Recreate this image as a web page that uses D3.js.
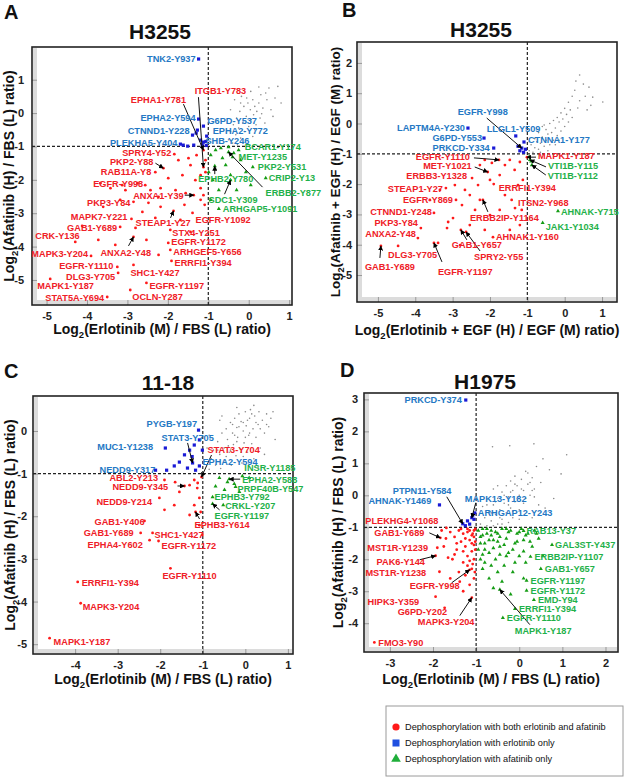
<!DOCTYPE html>
<html>
<head>
<meta charset="utf-8">
<script src="https://cdn.jsdelivr.net/npm/d3@7"></script>
<style>
  body { margin: 0; background: #fff; }
  text { font-family: 'Liberation Sans', Arial, sans-serif; }
</style>
</head>
<body>
<script>
// ---- data: panel A (H3255, erlotinib vs afatinib) ----
const grayA = [[-0.5,-0.8],[-0.45,-0.55],[-0.4,-0.9],[-0.38,-0.35],[-0.32,-0.65],[-0.3,-0.15],[-0.25,-0.45],[-0.22,0.05],[-0.2,-0.75],[-0.15,-0.3],[-0.12,0.2],[-0.1,-0.55],[-0.06,-0.1],[-0.02,0.3],[0.0,-0.4],[0.04,0.1],[0.06,-0.2],[0.1,0.4],[0.12,-0.05],[0.15,0.2],[0.18,-0.35],[0.2,0.05],[0.25,0.3],[0.28,-0.15],[0.3,0.55],[0.35,0.15],[0.4,-0.3],[0.45,0.4],[0.5,0.75],[0.55,0.1],[0.65,0.45],[0.72,0.8],[-0.35,0.4],[-0.18,0.5],[0.05,0.65],[0.25,0.78],[-0.45,0.1],[0.38,-0.6],[0.6,-0.1],[-0.28,-0.95],[0.1,-0.7],[0.8,0.3],[-0.05,0.45],[0.15,-0.5],[0.32,-0.02],[-0.2,0.3],[0.42,0.6]];
const redA = [[-3.67,-2.10],[-3.42,-2.25],[-3.13,-2.16],[-2.75,-2.10],[-2.43,-2.31],[-2.18,-2.25],[-1.81,-2.31],[-1.56,-2.40],[-1.32,-2.01],[-1.19,-1.86],[-1.19,-2.25],[-1.07,-1.41],[-1.07,-1.77],[-1.44,-1.56],[-1.64,-1.86],[-1.99,-1.95],[-2.23,-2.51],[-2.48,-2.69],[-2.63,-2.96],[-2.18,-2.81],[-1.59,-2.75],[-1.19,-2.60],[-3.18,-2.60],[-3.60,-2.81],[-2.31,-3.14],[-1.44,-3.56],[-4.12,-3.38],[-3.72,-3.80],[-2.53,-3.80],[-2.23,-4.25],[-3.30,-3.95],[-1.29,-1.26],[-1.49,-1.35],[-1.74,-1.41],[-3.05,-2.31],[-2.80,-3.44],[-1.12,-2.46],[-1.09,-2.75],[-1.69,-3.20]];
const blueA = [[-1.51,-0.99],[-1.36,-0.96],[-1.19,-0.81],[-1.27,-0.51],[-1.30,-0.60],[-1.06,-0.85],[-1.15,-0.95],[-1.05,-0.97],[-1.62,-0.96]];
const greenA = [[-0.82,-1.11],[-0.69,-1.05],[-0.65,-1.35],[-0.94,-1.26],[-0.57,-1.56],[-0.20,-1.41],[-0.07,-1.77],[-0.45,-1.86],[-0.89,-2.01],[-0.99,-1.77],[-0.30,-2.31],[0.05,-2.16],[-0.74,-2.31],[-0.94,-2.60],[-0.50,-1.02],[-0.37,-1.20]];
const labelsA = [
  ["TNK2-Y937",-1.24,1.62,"blue"],["ITGB1-Y783",-1.12,-1.62,"red"],["EPHA1-Y781",-1.12,-1.11,"red"],
  ["EPHA2-Y594",-1.24,-0.18,"blue"],["G6PD-Y537",-1.12,-0.39,"blue"],["CTNND1-Y228",-1.39,-0.66,"blue"],
  ["EPHA2-Y772",-1.04,-0.69,"blue"],["PLEKHA5-Y404",-1.69,-0.93,"blue"],["SHB-Y246",-1.12,-0.87,"blue"],
  ["BCAR1-Y174",-0.25,-1.11,"green"],["MET-Y1235",-0.40,-1.32,"green"],["PKP2-Y531",0.10,-1.62,"green"],
  ["CRIP2-Y13",0.42,-1.95,"green"],["EPHB2-Y780",-0.84,-1.59,"green"],["ERBB2-Y877",-0.50,-1.17,"green"],
  ["SDC1-Y309",-0.45,-2.01,"green"],["ARHGAP5-Y1091",-0.74,-2.87,"green"],
  ["SPRY4-Y52",-1.84,-1.23,"red"],["PKP2-Y88",-2.11,-1.65,"red"],["RAB11A-Y8",-2.31,-1.77,"red"],
  ["EGFR-Y998",-2.56,-2.16,"red"],["ANXA1-Y39",-1.36,-2.46,"red"],["PKP3-Y84",-2.85,-2.66,"red"],
  ["MAPK7-Y221",-2.90,-3.17,"red"],["GAB1-Y689",-3.18,-3.41,"red"],["STEAP1-Y27",-1.86,-2.93,"red"],
  ["CRK-Y136",-4.29,-3.86,"red"],["ANXA2-Y48",-2.85,-3.71,"red"],["MAPK3-Y204",-3.90,-4.28,"red"],
  ["EGFR-Y1110",-3.25,-4.61,"red"],["DLG3-Y705",-3.23,-4.79,"red"],["MAPK1-Y187",-4.91,-4.97,"red"],
  ["STAT5A-Y694",-3.50,-5.51,"red"],["SHC1-Y427",-2.85,-4.55,"red"],["EGFR-Y1197",-2.53,-5.09,"red"],
  ["OCLN-Y287",-2.93,-5.30,"red"],["EGFR-Y1092",-1.39,-2.99,"red"],["STX4-Y251",-1.94,-3.50,"red"],
  ["EGFR-Y1172",-1.99,-3.89,"red"],["ARHGEF5-Y656",-1.94,-4.10,"red"],["ERRFI1-Y394",-1.91,-4.43,"red"]
];

// ---- data: panel B (H3255 + EGF) ----
const grayB = [[-0.95,-0.9],[-0.9,-0.7],[-0.85,-0.95],[-0.8,-0.5],[-0.8,-0.8],[-0.75,-0.6],[-0.7,-0.85],[-0.7,-0.3],[-0.65,-0.65],[-0.6,-0.45],[-0.55,-0.75],[-0.5,-0.2],[-0.5,-0.55],[-0.45,-0.35],[-0.4,-0.7],[-0.4,0.0],[-0.35,-0.3],[-0.3,0.1],[-0.3,-0.55],[-0.25,-0.15],[-0.2,0.2],[-0.2,-0.4],[-0.15,0.05],[-0.1,0.35],[-0.1,-0.25],[-0.05,0.15],[0.0,0.5],[0.0,-0.1],[0.05,0.3],[0.1,0.7],[0.1,0.05],[0.15,0.45],[0.2,0.2],[0.2,0.9],[0.27,1.1],[0.35,0.51],[0.4,1.6],[0.4,0.75],[0.5,1.3],[0.55,0.9],[0.6,0.45],[0.65,1.2],[0.75,0.87],[1.02,0.71],[0.3,1.4],[0.7,0.6],[-0.6,-0.1],[-0.95,-0.6],[-0.65,-0.95],[-0.45,-0.9],[-0.25,-0.7],[-0.55,-0.05],[-0.15,-0.55]];
const redB = [[-2.27,-1.37],[-2.14,-1.20],[-1.95,-1.30],[-1.60,-1.37],[-1.47,-1.20],[-1.34,-1.53],[-1.20,-1.27],[-1.74,-1.70],[-2.00,-1.86],[-2.32,-2.03],[-2.67,-2.19],[-2.54,-2.36],[-2.27,-2.52],[-1.60,-2.36],[-1.25,-2.03],[-1.42,-2.52],[-1.74,-2.85],[-2.00,-3.02],[-2.40,-2.85],[-2.75,-2.69],[-2.99,-3.12],[-2.54,-3.35],[-2.14,-3.51],[-3.12,-3.25],[-3.15,-3.45],[-1.20,-3.35],[-2.80,-4.01],[-2.94,-2.03],[-3.34,-2.19],[-3.61,-2.52],[-1.47,-3.51],[-1.15,-2.85],[-1.12,-1.86],[-3.39,-3.94]];
const blueB = [[-1.2,-0.9],[-1.1,-0.95],[-1.25,-0.75],[-1.05,-0.85]];
const greenB = [[-0.95,-1.1],[-0.9,-1.25]];
const labelsB = [
  ["EGFR-Y998",-1.15,-0.81,"blue"],["LAPTM4A-Y230",-2.59,-0.15,"blue"],["G6PD-Y553",-2.16,-0.48,"blue"],
  ["LLGL1-Y509",-1.31,-0.41,"blue"],["PRKCD-Y334",-1.90,-0.81,"blue"],["CTNNA1-Y177",-1.09,-0.61,"blue"],
  ["MAPK1-Y187",-1.01,-1.11,"red"],["VTI1B-Y115",-0.93,-1.20,"green"],["VTI1B-Y112",-0.88,-1.37,"green"],
  ["EGFR-Y1110",-1.76,-1.20,"red"],["MET-Y1021",-2.06,-1.60,"red"],["ERBB3-Y1328",-2.48,-1.80,"red"],
  ["STEAP1-Y27",-3.18,-2.13,"red"],["EGFR-Y869",-2.91,-2.52,"red"],["CTNND1-Y248",-3.50,-2.95,"red"],
  ["PKP3-Y84",-3.85,-3.45,"red"],["ANXA2-Y48",-3.93,-3.78,"red"],["DLG3-Y705",-4.46,-4.04,"red"],
  ["GAB1-Y689",-4.92,-4.04,"red"],["EGFR-Y1197",-3.50,-3.94,"red"],["GAB1-Y657",-2.78,-3.51,"red"],
  ["ERRFI1-Y394",-1.90,-2.00,"red"],["ITSN2-Y968",-1.33,-2.79,"red"],["ERBB2IP-Y1164",-2.19,-2.52,"red"],
  ["AHNAK1-Y160",-1.92,-3.75,"red"],["SPRY2-Y55",-2.64,-3.58,"red"],
  ["AHNAK-Y715",-0.18,-2.89,"green"],["JAK1-Y1034",-0.59,-3.28,"green"]
];

// ---- data: panel C (11-18) ----
const grayC = [[-0.85,-0.9],[-0.8,-0.65],[-0.75,-0.45],[-0.7,-0.8],[-0.65,-0.25],[-0.6,-0.55],[-0.58,-0.88],[-0.55,-0.05],[-0.5,-0.4],[-0.48,-0.7],[-0.45,0.05],[-0.42,-0.2],[-0.38,-0.5],[-0.35,0.2],[-0.33,-0.8],[-0.3,-0.05],[-0.28,-0.32],[-0.25,0.3],[-0.22,-0.58],[-0.2,0.08],[-0.18,-0.15],[-0.15,0.4],[-0.12,-0.42],[-0.1,0.22],[-0.08,-0.75],[-0.05,0.0],[-0.03,-0.28],[0.0,0.45],[0.02,0.12],[0.05,-0.5],[0.08,-0.1],[0.1,0.3],[0.12,0.5],[0.15,-0.3],[0.18,0.05],[0.2,-0.65],[0.22,0.35],[0.25,-0.15],[0.3,0.15],[0.32,0.45],[0.35,-0.4],[0.4,0.25],[0.45,-0.05],[0.5,0.4],[0.55,0.1],[0.6,0.3],[0.65,0.45],[0.7,-0.2],[-0.85,-0.1],[-0.6,0.25],[-0.9,-0.4],[0.3,-0.85],[-0.2,0.55],[0.45,-0.55],[-0.55,0.35],[-0.45,-0.6],[-0.35,-0.45],[-0.25,-0.1],[-0.15,0.1],[-0.05,0.2],[0.05,0.25],[0.15,0.4],[0.25,0.2],[-0.1,-0.5],[-0.3,0.15],[0.0,-0.15],[0.35,0.05],[-0.4,-0.35],[0.1,-0.05],[-0.2,-0.25],[0.2,0.6],[-0.65,-0.45],[0.5,0.15],[-0.05,-0.6]];
const redC = [[-1.31,-1.27],[-1.20,-1.15],[-1.13,-1.34],[-1.55,-1.43],[-1.08,-1.57],[-1.20,-1.74],[-1.31,-1.97],[-1.08,-2.21],[-1.67,-1.74],[-1.90,-1.85],[-1.01,-2.44],[-1.12,-1.22],[-1.65,-1.2],[-1.05,-1.9]];
const blueC = [[-1.43,-0.56],[-1.31,-0.45],[-1.55,-0.73],[-1.20,-0.33],[-1.08,-0.21],[-1.01,-0.45],[-1.36,-0.87],[-1.17,-0.92],[-1.67,-0.82],[-2.11,-0.92],[-1.25,-0.6]];
const greenC = [[-0.26,-1.24],[-0.42,-1.20],[-0.61,-1.10],[-0.49,-1.38],[0.09,-1.10],[-0.14,-1.43],[-0.7,-1.3]];
const labelsC = [
  ["PYGB-Y197",-1.10,0.02,"blue"],["MUC1-Y1238",-1.88,-0.40,"blue"],["STAT3-Y705",-1.24,-0.75,"blue"],
  ["NEDD9-Y317",-1.85,-0.92,"blue"],["STAT3-Y704",-1.03,-1.08,"red"],["EPHA2-Y594",-1.08,-0.82,"blue"],
  ["ABL2-Y213",-1.90,-1.15,"red"],["NEDD9-Y345",-1.43,-1.29,"red"],["NEDD9-Y214",-2.02,-1.57,"red"],
  ["GAB1-Y406",-2.37,-2.11,"red"],["GAB1-Y689",-2.46,-2.39,"red"],["SHC1-Y427",-2.18,-2.39,"red"],
  ["EPHA4-Y602",-2.25,-2.56,"red"],["EGFR-Y1172",-2.04,-2.58,"red"],["EGFR-Y1110",-1.76,-3.22,"red"],
  ["ERRFI1-Y394",-3.94,-3.54,"red"],["MAPK3-Y204",-3.87,-4.04,"red"],["MAPK1-Y187",-4.60,-4.86,"red"],
  ["EPHB3-Y614",-1.17,-1.90,"red"],["INSR-Y1185",-0.07,-1.06,"green"],["EPHA2-Y588",-0.38,-1.13,"green"],
  ["PRPF40B-Y547",-0.23,-1.31,"green"],["EPHB3-Y792",-0.77,-1.55,"green"],["CRKL-Y207",-0.52,-1.74,"green"],
  ["EGFR-Y1197",-0.77,-1.71,"green"]
];

// ---- data: panel D (H1975) ----
const grayD = [[-0.9,-0.9],[-0.8,-0.7],[-0.75,-0.95],[-0.7,-0.5],[-0.65,-0.8],[-0.6,-0.3],[-0.55,-0.6],[-0.5,-0.9],[-0.5,-0.1],[-0.45,-0.45],[-0.4,-0.75],[-0.4,0.1],[-0.35,-0.25],[-0.3,-0.55],[-0.3,0.3],[-0.25,-0.05],[-0.2,-0.4],[-0.2,0.45],[-0.15,-0.7],[-0.15,0.15],[-0.1,-0.2],[-0.1,0.6],[-0.05,0.3],[0.0,-0.45],[0.0,0.0],[0.05,0.5],[0.1,0.15],[0.1,-0.25],[0.15,0.75],[0.2,0.35],[0.25,0.0],[0.3,0.55],[0.35,0.2],[0.4,0.9],[0.45,-0.3],[0.5,0.4],[-0.6,0.2],[-0.85,-0.35],[-0.25,-0.85],[0.3,-0.7],[-0.62,1.52],[-0.22,1.55],[0.34,1.61],[0.55,1.14],[1.1,1.27],[0.97,0.67],[0.7,0.8],[0.6,-0.4],[0.8,-0.1],[-0.55,-0.2],[-0.45,-0.7],[-0.35,0.0],[-0.25,-0.3],[-0.15,-0.5],[-0.05,-0.1],[0.05,0.2],[0.15,-0.1],[0.25,0.4],[-0.65,-0.55],[-0.75,-0.3],[-0.5,0.3],[0.2,0.7],[0.35,-0.05],[-0.2,0.1],[-0.4,-0.9],[0.0,-0.75],[-0.6,-0.95],[0.3,0.15],[-0.1,0.35]];
const redD = [[-1.05,-1.1],[-1.1,-1.25],[-1.2,-1.05],[-1.3,-1.2],[-1.15,-1.4],[-1.05,-1.55],[-1.4,-1.1],[-1.5,-1.3],[-1.25,-1.6],[-1.1,-1.75],[-1.6,-1.15],[-1.35,-1.45],[-1.2,-1.9],[-1.05,-2.0],[-1.45,-1.7],[-1.7,-1.35],[-1.3,-2.1],[-1.1,-2.3],[-1.55,-2.0],[-1.25,-2.5],[-1.05,-2.6],[-1.4,-2.4],[-1.15,-2.8],[-1.6,-2.6],[-1.3,-3.0],[-1.05,-1.3],[-1.02,-1.7],[-1.08,-2.15],[-1.75,-1.6],[-1.2,-1.15],[-1.02,-1.05],[-1.1,-1.5],[-1.35,-1.05],[-1.15,-1.1],[-1.25,-1.35],[-1.45,-1.5],[-1.03,-2.4],[-1.2,-2.2],[-1.5,-1.85],[-1.65,-1.95],[-1.08,-1.2],[-1.3,-1.75],[-1.15,-2.05],[-1.02,-1.45],[-1.38,-2.7],[-1.8,-1.1]];
const blueD = [[-1.2,-0.8],[-1.15,-0.9],[-1.05,-0.75],[-1.25,-0.95],[-1.08,-0.62]];
const greenD = [[-0.95,-1.1],[-0.9,-1.3],[-0.85,-1.05],[-0.8,-1.5],[-0.75,-1.2],[-0.7,-1.8],[-0.65,-1.1],[-0.6,-1.4],[-0.55,-2.0],[-0.5,-1.2],[-0.45,-1.6],[-0.4,-1.05],[-0.35,-2.2],[-0.3,-1.35],[-0.25,-1.8],[-0.2,-1.1],[-0.15,-2.4],[-0.1,-1.5],[-0.05,-1.2],[0.0,-1.9],[0.05,-1.05],[0.1,-1.4],[0.15,-2.1],[0.2,-1.2],[0.3,-1.6],[0.35,-1.1],[0.45,-1.35],[0.55,-1.9],[-0.85,-2.3],[-0.7,-2.6],[-0.6,-2.9],[-0.9,-2.0],[-0.4,-2.7],[-0.8,-1.7],[-0.5,-1.45],[-0.65,-1.25],[-0.3,-1.05],[0.1,-2.6],[-0.2,-3.1],[-0.9,-1.5],[-0.85,-1.25],[-0.75,-1.05],[-0.7,-1.4],[-0.55,-1.15],[-0.45,-1.3],[-0.35,-1.55],[-0.25,-1.15],[-0.15,-1.7],[-0.05,-1.45],[0.0,-1.15],[0.1,-1.75],[0.25,-1.45],[-0.6,-1.65],[-0.8,-2.1],[-0.5,-2.4],[-0.95,-1.7],[-0.3,-1.9],[0.15,-1.25],[-0.65,-2.2],[-0.85,-1.85],[0.4,-1.2],[-0.1,-2.1],[-0.45,-1.85]];
const labelsD = [
  ["PRKCD-Y374",-1.24,2.98,"blue"],["PTPN11-Y584",-1.31,-0.89,"blue"],["AHNAK-Y1469",-1.85,-0.30,"blue"],
  ["MAPK13-Y182",-1.10,-0.70,"blue"],["ARHGAP12-Y243",-1.03,-0.55,"blue"],
  ["PLEKHG4-Y1068",-1.69,-1.02,"red"],["GAB1-Y689",-1.83,-1.33,"red"],["MST1R-Y1239",-1.90,-1.64,"red"],
  ["PAK6-Y144",-1.94,-1.89,"red"],["MST1R-Y1238",-1.85,-2.39,"red"],["EGFR-Y998",-1.15,-2.33,"red"],
  ["HIPK3-Y359",-1.94,-3.17,"red"],["G6PD-Y202",-1.73,-3.52,"red"],["MAPK3-Y204",-1.10,-3.20,"red"],
  ["FMO3-Y90",-3.36,-4.60,"red"],
  ["RAB13-Y37",0.10,-1.11,"green"],["GAL3ST-Y437",0.76,-1.55,"green"],["ERBB2IP-Y1107",0.26,-1.92,"green"],
  ["GAB1-Y657",0.50,-2.30,"green"],["EGFR-Y1197",0.17,-2.67,"green"],["EGFR-Y1172",0.17,-2.98,"green"],
  ["EMD-Y94",0.34,-3.27,"green"],["ERRFI1-Y394",-0.10,-3.55,"green"],["EGFR-Y1110",-0.38,-3.83,"green"],
  ["MAPK1-Y187",-0.45,-2.95,"green"]
];

const legendItems = [
  ["red", "Dephosphorylation with both erlotinib and afatinib"],
  ["blue", "Dephosphorylation with erlotinib only"],
  ["green", "Dephosphorylation with afatinib only"]
];

// ---- label placement (pixel offsets from the point: dx, dy, anchor, arrow start dx, dy) ----
const layoutA = {
  "TNK2-Y937":[-3,0,"end"], "ITGB1-Y783":[17,-76,"middle",-5,-70], "EPHA1-Y781":[-45,-50,"middle",-20,-46],
  "EPHA2-Y594":[-3,-1,"end"], "G6PD-Y537":[4,-5,"start"], "CTNND1-Y228":[-3,-4,"end"],
  "EPHA2-Y772":[6,-5,"start"], "PLEKHA5-Y404":[-3,-1,"end"], "SHB-Y246":[2,-1,"start"],
  "BCAR1-Y174":[6,-3,"start"], "MET-Y1235":[6,0,"start"], "PKP2-Y531":[5,0,"start"], "CRIP2-Y13":[3,0,"start"],
  "EPHB2-Y780":[11,13,"middle",0,8], "ERBB2-Y877":[37,41,"start",34,35], "SDC1-Y309":[-22,20,"start",-6,14],
  "ARHGAP5-Y1091":[4,0,"start"], "SPRY4-Y52":[-3,-1,"end"], "PKP2-Y88":[-10,-6,"end",-8,-5],
  "RAB11A-Y8":[-4,0,"end"], "EGFR-Y998":[-2,-1,"end"], "ANXA1-Y39":[-10,0,"end",-9,0],
  "PKP3-Y84":[-3,1,"end"], "MAPK7-Y221":[-4,-2,"end"], "GAB1-Y689":[-3,1,"end"],
  "STEAP1-Y27":[-38,12,"start",-3,7], "CRK-Y136":[-40,-6,"start"], "ANXA2-Y48":[-33,16,"start",-5,9],
  "MAPK3-Y204":[-3,-2,"end"], "EGFR-Y1110":[-4,-1,"end"], "DLG3-Y705":[-3,4,"end"],
  "MAPK1-Y187":[-13,7,"start"], "STAT5A-Y694":[-3,1,"end"], "SHC1-Y427":[-3,8,"start"],
  "EGFR-Y1197":[3,3,"start"], "OCLN-Y287":[2,7,"start"], "EGFR-Y1092":[3,7,"start"],
  "STX4-Y251":[2,3,"start"], "EGFR-Y1172":[3,-1,"start"], "ARHGEF5-Y656":[3,2,"start"], "ERRFI1-Y394":[3,2,"start"]
};
const layoutB = {
  "EGFR-Y998":[-64,-36,"start",-35,-30], "LAPTM4A-Y230":[-3,0,"end"], "G6PD-Y553":[-2,0,"end"],
  "LLGL1-Y509":[-29,-7,"start"], "PRKCD-Y334":[-4,0,"end"], "CTNNA1-Y177":[4,-2,"start"],
  "MAPK1-Y187":[11,-1,"start",9,0], "VTI1B-Y115":[18,6,"start",16,7], "VTI1B-Y112":[16,11,"start",14,10],
  "EGFR-Y1110":[-29,-3,"end",-25,-2], "MET-Y1021":[-16,-6,"end",-13,-5], "ERBB3-Y1328":[-5,-2,"end"],
  "STEAP1-Y27":[-3,1,"end"], "EGFR-Y869":[-3,0,"end"], "CTNND1-Y248":[-2,-1,"end"],
  "PKP3-Y84":[-3,-5,"end"], "ANXA2-Y48":[-2,-4,"end"], "DLG3-Y705":[-10,9,"start"],
  "GAB1-Y689":[-16,21,"start",-1,12], "EGFR-Y1197":[4,29,"start",8,19], "GAB1-Y657":[-9,15,"start",6,10],
  "ERRFI1-Y394":[5,4,"start"], "ITSN2-Y968":[3,-5,"start"], "ERBB2IP-Y1164":[-13,18,"start",5,12],
  "AHNAK1-Y160":[3,0,"start"], "SPRY2-Y55":[8,25,"start",14,19],
  "AHNAK-Y715":[3,1,"start"], "JAK1-Y1034":[3,4,"start"]
};
const layoutC = {
  "PYGB-Y197":[-52,-6,"start"], "MUC1-Y1238":[-68,-1,"start"], "STAT3-Y705":[-31,-25,"start",-5,-20],
  "NEDD9-Y317":[-67,-1,"start"], "STAT3-Y704":[6,-27,"start",10,-22], "EPHA2-Y594":[3,-4,"start"],
  "ABL2-Y213":[-55,-2,"start"], "NEDD9-Y345":[-72,1,"start",-7,0], "NEDD9-Y214":[-63,4,"start"],
  "GAB1-Y406":[-50,1,"start"], "GAB1-Y689":[-57,0,"start"], "SHC1-Y427":[2,2,"start"],
  "EPHA4-Y602":[-62,5,"start"], "EGFR-Y1172":[3,5,"start"], "EGFR-Y1110":[-8,7,"start"],
  "ERRFI1-Y394":[4,1,"start"], "MAPK3-Y204":[2,3,"start"], "MAPK1-Y187":[4,3,"start"],
  "EPHB3-Y614":[-1,13,"start",4,7], "INSR-Y1185":[2,-8,"start"], "EPHA2-Y588":[13,1,"start",11,0],
  "PRPF40B-Y547":[2,2,"start"], "EPHB3-Y792":[2,0,"start"], "CRKL-Y207":[2,1,"start"],
  "EGFR-Y1197":[2,12,"start",7,6]
};
const layoutD = {
  "PRKCD-Y374":[-4,0,"end"], "PTPN11-Y584":[-70,-33,"start",-16,-27], "AHNAK-Y1469":[-71,-4,"start"],
  "MAPK13-Y182":[-7,-19,"start",4,-15], "ARHGAP12-Y243":[3,0,"start"],
  "PLEKHG4-Y1068":[-81,-7,"start"], "GAB1-Y689":[-66,-5,"start",-11,-5], "MST1R-Y1239":[-70,0,"start"],
  "PAK6-Y144":[-59,6,"start",-16,4], "MST1R-Y1238":[-74,1,"start"], "EGFR-Y998":[-60,16,"start",-18,13],
  "HIPK3-Y359":[-68,5,"start"], "G6PD-Y202":[-47,4,"start"], "MAPK3-Y204":[-54,24,"start",-12,18],
  "FMO3-Y90":[4,0,"start"],
  "RAB13-Y37":[3,0,"start"], "GAL3ST-Y437":[3,0,"start"], "ERBB2IP-Y1107":[4,0,"start"],
  "GAB1-Y657":[4,0,"start"], "EGFR-Y1197":[4,0,"start"], "EGFR-Y1172":[4,0,"start"],
  "EMD-Y94":[4,0,"start"], "ERRFI1-Y394":[4,0,"start"], "EGFR-Y1110":[4,0,"start"], "MAPK1-Y187":[15,41,"start",30,35]
};

const pointColor = {red: "#ff1a1a", blue: "#1a1ad6", green: "#149c14", gray: "#8a8a8a"};
const textColor = {red: "#ef2027", blue: "#2478c4", green: "#1fb14a"};

const svg = d3.select("body").append("svg").attr("width", 625).attr("height", 781);

svg.append("defs").append("marker")
  .attr("id", "arr").attr("viewBox", "0 0 10 10").attr("refX", 9).attr("refY", 5)
  .attr("markerWidth", 5).attr("markerHeight", 5).attr("orient", "auto")
  .append("path").attr("d", "M0,0L10,5L0,10z").attr("fill", "#000");

function logTitle(g, rest, tx, ty, rotate, size) {
  const t = g.append("text")
    .attr("transform", `translate(${tx},${ty})` + (rotate ? " rotate(-90)" : ""))
    .attr("text-anchor", "middle").attr("font-weight", "bold").attr("font-size", size).attr("fill", "#111");
  t.append("tspan").text("Log");
  t.append("tspan").attr("font-size", size * 0.68).attr("dy", 4).text("2");
  t.append("tspan").attr("dy", -4).text(rest);
}

function panel(p) {
  const [x0, y0, x1, y1] = p.box;
  const x = d3.scaleLinear().domain(p.xDomain).range([x0, x1]);
  const y = d3.scaleLinear().domain(p.yDomain).range([y1, y0]);
  const g = svg.append("g");

  // grey inner band on left and bottom
  g.append("rect").attr("x", x0 + 1).attr("y", y0 + 1).attr("width", 4).attr("height", y1 - y0 - 2).attr("fill", "#dcdcdc");
  g.append("rect").attr("x", x0 + 1).attr("y", y1 - 5).attr("width", x1 - x0 - 2).attr("height", 4).attr("fill", "#dcdcdc");

  const xa = g.append("g").attr("transform", `translate(0,${y1})`)
    .call(d3.axisBottom(x).tickValues(p.xTicks).tickSize(-5).tickPadding(7).tickFormat(d => String(d)));
  const ya = g.append("g").attr("transform", `translate(${x0},0)`)
    .call(d3.axisLeft(y).tickValues(p.yTicks).tickSize(-5).tickPadding(p.yPad).tickFormat(d => String(d)));
  [xa, ya].forEach(a => {
    a.select(".domain").remove();
    a.selectAll(".tick line").attr("stroke", "#999");
    a.selectAll("text").attr("font-size", 11).attr("font-weight", "bold").attr("fill", "#222")
      .attr("font-family", "'Liberation Sans', Arial, sans-serif");
  });

  g.append("rect").attr("x", x0).attr("y", y0).attr("width", x1 - x0).attr("height", y1 - y0)
    .attr("fill", "none").attr("stroke", "#222").attr("stroke-width", 1.6);

  // dashed thresholds at log2 = -1
  g.append("line").attr("x1", x(-1)).attr("x2", x(-1)).attr("y1", y0).attr("y2", y1)
    .attr("stroke", "#222").attr("stroke-dasharray", "3,2").attr("stroke-width", 1.2);
  g.append("line").attr("x1", x0).attr("x2", x1).attr("y1", y(-1)).attr("y2", y(-1))
    .attr("stroke", "#222").attr("stroke-dasharray", "3,2").attr("stroke-width", 1.2);

  const lab = p.labels.map(d => ({name: d[0], v: [d[1], d[2]], grp: d[3]}));
  const pts = {
    gray: p.gray,
    red: p.red.concat(lab.filter(d => d.grp === "red").map(d => d.v)),
    blue: p.blue.concat(lab.filter(d => d.grp === "blue").map(d => d.v)),
    green: p.green.concat(lab.filter(d => d.grp === "green").map(d => d.v))
  };

  g.append("g").selectAll("circle").data(pts.gray).join("circle")
    .attr("cx", d => x(d[0])).attr("cy", d => y(d[1])).attr("r", 0.8).attr("fill", pointColor.gray);
  g.append("g").selectAll("path").data(pts.green).join("path")
    .attr("transform", d => `translate(${x(d[0])},${y(d[1])})`)
    .attr("d", d3.symbol(d3.symbolTriangle, 7)).attr("fill", pointColor.green);
  g.append("g").selectAll("circle").data(pts.red).join("circle")
    .attr("cx", d => x(d[0])).attr("cy", d => y(d[1])).attr("r", 1.4).attr("fill", pointColor.red);
  g.append("g").selectAll("rect").data(pts.blue).join("rect")
    .attr("x", d => x(d[0]) - 1.6).attr("y", d => y(d[1]) - 1.6).attr("width", 3.2).attr("height", 3.2)
    .attr("fill", pointColor.blue);

  // arrows
  g.append("g").selectAll("line").data(lab.filter(d => p.layout[d.name] && p.layout[d.name].length > 3)).join("line")
    .attr("x1", d => x(d.v[0]) + p.layout[d.name][3]).attr("y1", d => y(d.v[1]) + p.layout[d.name][4])
    .attr("x2", d => x(d.v[0])).attr("y2", d => y(d.v[1]))
    .attr("stroke", "#111").attr("stroke-width", 1).attr("marker-end", "url(#arr)");

  g.append("g").selectAll("text").data(lab).join("text")
    .attr("x", d => x(d.v[0]) + p.layout[d.name][0])
    .attr("y", d => y(d.v[1]) + p.layout[d.name][1])
    .attr("dy", "0.36em").attr("text-anchor", d => p.layout[d.name][2])
    .attr("font-size", 9.2).attr("font-weight", "bold").attr("fill", d => textColor[d.grp])
    .text(d => d.name);

  g.append("text").attr("x", p.title[1]).attr("y", p.title[2]).attr("text-anchor", "middle")
    .attr("font-size", 21).attr("font-weight", "bold").attr("fill", "#111").text(p.title[0]);
  g.append("text").attr("x", p.letter[1]).attr("y", p.letter[2])
    .attr("font-size", 20).attr("font-weight", "bold").attr("fill", "#111").text(p.letter[0]);

  logTitle(g, p.xTitle, (x0 + x1) / 2, p.xTitleY, false, 14);
  logTitle(g, p.yTitle, p.yTitleX, (y0 + y1) / 2, true, p.yTitleSize);
}

panel({
  box: [32, 47, 292, 305], xDomain: [-5.36, 1.07], yDomain: [-5.75, 1.98],
  xTicks: [-5, -4, -3, -2, -1, 0, 1], yTicks: [-5, -4, -3, -2, -1, 0, 1], yPad: 8,
  gray: grayA, red: redA, blue: blueA, green: greenA, labels: labelsA, layout: layoutA,
  title: ["H3255", 160, 39], letter: ["A", 4, 19],
  xTitle: "(Erlotinib (M) / FBS (L) ratio)", xTitleY: 334,
  yTitle: "(Afatinib (H) / FBS (L) ratio)", yTitleX: 14, yTitleSize: 14
});
panel({
  box: [357, 42, 617, 302], xDomain: [-5.56, 1.4], yDomain: [-5.89, 2.69],
  xTicks: [-5, -4, -3, -2, -1, 0, 1], yTicks: [-5, -4, -3, -2, -1, 0, 1, 2], yPad: 5,
  gray: grayB, red: redB, blue: blueB, green: greenB, labels: labelsB, layout: layoutB,
  title: ["H3255", 481, 37], letter: ["B", 342, 17],
  xTitle: "(Erlotinib + EGF (H) / EGF (M) ratio)", xTitleY: 335,
  yTitle: "(Afatinib + EGF (H) / EGF (M) ratio)", yTitleX: 340, yTitleSize: 13.5
});
panel({
  box: [33, 396, 293, 654], xDomain: [-4.99, 1.12], yDomain: [-5.23, 0.82],
  xTicks: [-4, -3, -2, -1, 0, 1], yTicks: [-5, -4, -3, -2, -1, 0], yPad: 6,
  gray: grayC, red: redC, blue: blueC, green: greenC, labels: labelsC, layout: layoutC,
  title: ["11-18", 168, 390], letter: ["C", 4, 378],
  xTitle: "(Erlotinib (M) / FBS (L) ratio)", xTitleY: 684,
  yTitle: "(Afatinib (H) / FBS (L) ratio)", yTitleX: 15, yTitleSize: 14
});
panel({
  box: [364, 393, 618, 652], xDomain: [-3.6, 2.29], yDomain: [-4.9, 3.2],
  xTicks: [-3, -2, -1, 0, 1, 2], yTicks: [-4, -3, -2, -1, 0, 1, 2, 3], yPad: 6,
  gray: grayD, red: redD, blue: blueD, green: greenD, labels: labelsD, layout: layoutD,
  title: ["H1975", 485, 389], letter: ["D", 340, 377],
  xTitle: "(Erlotinib (M) / FBS (L) ratio)", xTitleY: 684,
  yTitle: "(Afatinib (H) / FBS (L) ratio)", yTitleX: 343, yTitleSize: 14
});

// legend
const lg = svg.append("g");
lg.append("rect").attr("x", 386).attr("y", 706).attr("width", 237).attr("height", 70)
  .attr("fill", "#fff").attr("stroke", "#9a9a9a");
const row = lg.selectAll("g.row").data(legendItems).join("g")
  .attr("transform", (d, i) => `translate(396,${727 + i * 16})`);
row.filter(d => d[0] === "red").append("circle").attr("r", 3.6).attr("fill", "#ff1a1a");
row.filter(d => d[0] === "blue").append("rect").attr("x", -3.5).attr("y", -3.5).attr("width", 7).attr("height", 7).attr("fill", "#1f4fe0");
row.filter(d => d[0] === "green").append("path").attr("d", d3.symbol(d3.symbolTriangle, 40)).attr("fill", "#1fae3a");
row.append("text").attr("x", 9).attr("dy", "0.35em").attr("font-size", 9.2).attr("fill", "#111").text(d => d[1]);
</script>
</body>
</html>
